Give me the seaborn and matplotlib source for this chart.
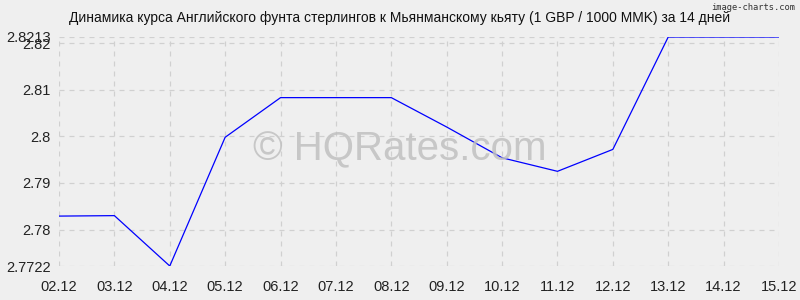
import matplotlib
matplotlib.use("Agg")
import matplotlib.pyplot as plt
import seaborn as sns
import pandas as pd

dates = ["02.12", "03.12", "04.12", "05.12", "06.12", "07.12", "08.12",
         "09.12", "10.12", "11.12", "12.12", "13.12", "14.12", "15.12"]
rates = [2.7829, 2.7830, 2.7722, 2.7998, 2.8083, 2.8083, 2.8083,
         2.8020, 2.7954, 2.7925, 2.7972, 2.8213, 2.8213, 2.8213]
y_ticks = [2.7722, 2.78, 2.79, 2.80, 2.81, 2.82, 2.8213]
y_labels = ["2.7722", "2.78", "2.79", "2.8", "2.81", "2.82", "2.8213"]
title = "Динамика курса Английского фунта стерлингов к Мьянманскому кьяту (1 GBP / 1000 MMK) за 14 дней"

sns.set_theme(style="white")
plt.rcParams['font.family'] = ['Liberation Sans', 'DejaVu Sans']

bg = "#efefef"
fig = plt.figure(figsize=(8, 3), dpi=100, facecolor=bg)
ax = fig.add_axes([59/800, 1-266/300, (779-59)/800, (266-37)/300])
ax.set_facecolor(bg)

df = pd.DataFrame({"x": range(len(dates)), "rate": rates})
sns.lineplot(data=df, x="x", y="rate", ax=ax, color="#0000ff", linewidth=0.9)

ax.set_xlim(0, len(dates)-1)
ax.set_ylim(y_ticks[0], y_ticks[-1])
ax.set_xticks(range(len(dates)))
ax.set_xticklabels(dates, fontsize=10.5, color="#222222")
ax.set_yticks(y_ticks)
ax.set_yticklabels(y_labels, fontsize=10.5, color="#222222")
ax.set_xlabel("")
ax.set_ylabel("")
ax.tick_params(axis="both", length=0, pad=6)
ax.tick_params(axis="x", pad=10)
for s in ax.spines.values():
    s.set_visible(False)
ax.grid(True, color="#d0d0d0", linestyle=(0, (4, 4)), linewidth=0.9)
ax.set_axisbelow(True)

fig.text(0.5, 1-149/300, "© HQRates.com", ha="center", va="center",
         fontsize=29, color="#c0c0c0", alpha=0.85, zorder=0)
fig.text(0.5, 1-18/300, title, ha="center", va="center", fontsize=10, color="#111111")
fig.text(795/800, 1-8/300, "image-charts.com", ha="right", va="center", fontsize=6.3,
         color="#333333", family=["DejaVu Sans Mono"])

fig.savefig("out.png", dpi=100, facecolor=bg)
